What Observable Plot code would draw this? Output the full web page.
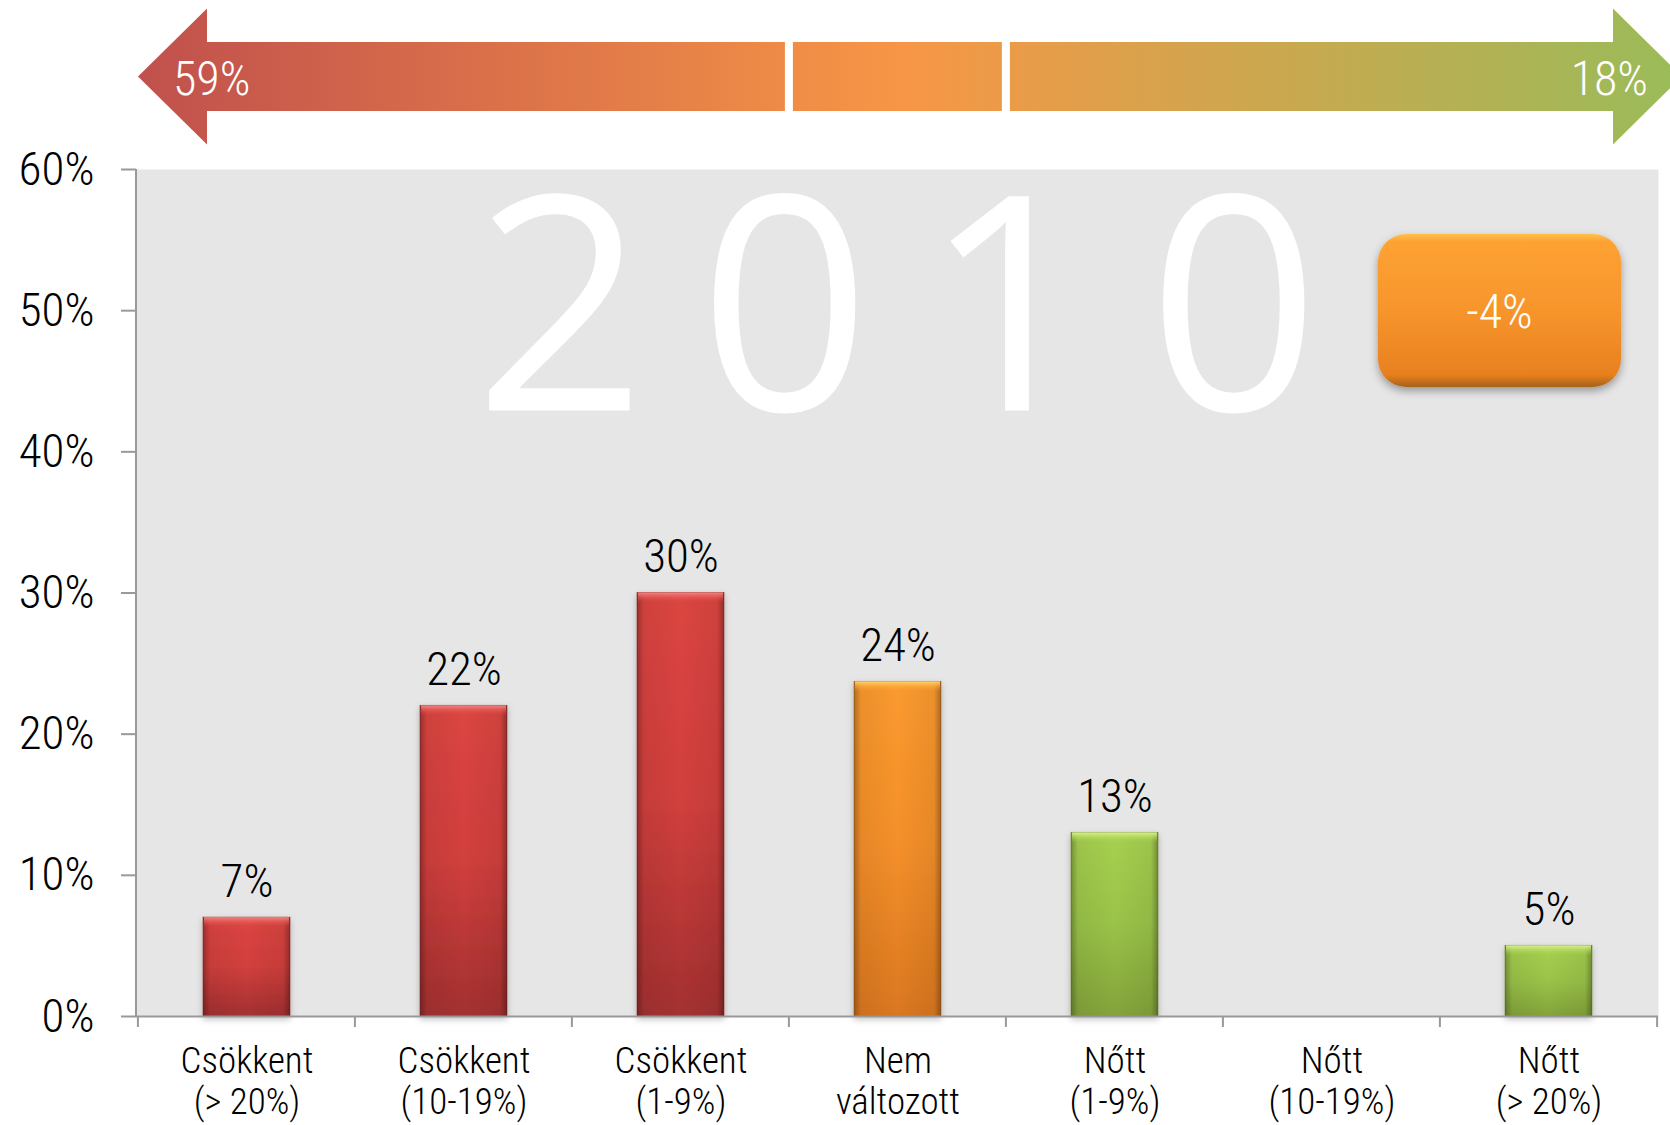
<!DOCTYPE html>
<html><head><meta charset="utf-8">
<script src="https://cdn.jsdelivr.net/npm/d3@7"></script>
<script src="https://cdn.jsdelivr.net/npm/@observablehq/plot@0.6"></script>
<style>
html,body{margin:0;padding:0;background:#fff;}
#chart{width:1670px;height:1125px;overflow:hidden;}
</style></head><body><div id="chart"></div>
<script>
// ---- data ----
const categories = ["Csökkent\n(> 20%)","Csökkent\n(10-19%)","Csökkent\n(1-9%)","Nem\nváltozott","Nőtt\n(1-9%)","Nőtt\n(10-19%)","Nőtt\n(> 20%)"];
const values = [7, 22, 30, 23.7, 13, 0, 5];
const valueLabels = ["7%","22%","30%","24%","13%","","5%"];
const groups = ["down","down","down","same","up","up","up"];
const yTicks = [0, 10, 20, 30, 40, 50, 60];
const yearLabel = "2010";
const arrowLabels = ["59%", "18%"];
const netChange = "-4%";

const data = categories.map((c, i) => ({cat: c, value: values[i], label: valueLabels[i], group: groups[i]}));
const shown = data.filter(d => d.value > 0);

const FONT = "'Roboto Condensed', 'Liberation Sans Narrow', 'Arial Narrow', Roboto, sans-serif";
const edge = {down: "#8e2a2a", same: "#b8621a", up: "#6b8530"};

const barMarks = [];
for (const g of ["down", "same", "up"]) {
  const sub = shown.filter(d => d.group === g);
  barMarks.push(Plot.barY(sub, {x: "cat", y1: 0, y2: "value", fill: `url(#grad-${g})`, stroke: edge[g], strokeWidth: 1, strokeOpacity: 0.6}));
}
barMarks.push(Plot.barY(shown, {x: "cat", y1: 0, y2: "value", fill: "url(#sideShade)"}));
for (const g of ["down", "same", "up"]) {
  const sub = shown.filter(d => d.group === g);
  barMarks.push(Plot.barY(sub, {x: "cat", y1: "value", y2: "value", insetBottom: -10, insetLeft: 1, insetRight: 1, fill: `url(#bevel-${g})`}));
}

const plot = Plot.plot({
  width: 1670, height: 1125,
  marginLeft: 136, marginRight: 12, marginTop: 169, marginBottom: 109,
  style: {fontFamily: FONT, fontWeight: 300, background: "white", color: "black", overflow: "visible"},
  x: {domain: categories, paddingInner: 0.6, paddingOuter: 0.3, label: null},
  y: {domain: [0, 60], label: null},
  marks: [
    Plot.frame({fill: "#e6e6e6", stroke: null}),
    Plot.text([yearLabel], {frameAnchor: "top", lineAnchor: "top", dy: 28, dx: 26, fontSize: 300, fontWeight: 400,
      fill: "white", fontFamily: "'Open Sans', 'Lato', sans-serif"}),
    ...barMarks,
    Plot.text(shown, {x: "cat", y: "value", text: "label", dy: -21, lineAnchor: "bottom", fontSize: 47, fontWeight: 300, fill: "black"}),
    Plot.axisY({ticks: yTicks, tickFormat: d => d + "%", tickSize: 15, tickPadding: 27, fontSize: 47, fontWeight: 300, stroke: "#999", strokeWidth: 2, fill: "black", label: null}),
    Plot.axisX({tickSize: 0, tickPadding: 28, fontSize: 37, fontWeight: 300, lineHeight: 1.1, lineAnchor: "top", fill: "black", label: null}),
    Plot.ruleY([0], {stroke: "#999", strokeWidth: 2})
  ]
});
document.getElementById("chart").appendChild(plot);

// ---- decorations derived from the scales ----
const svg = d3.select(plot);
const xs = plot.scale("x"), ys = plot.scale("y");
const [xL, xR] = xs.range;
const yTop = ys.apply(60), yBase = ys.apply(0);
const half = xs.step * xs.paddingInner / 2;
const bounds = categories.map(c => xs.apply(c) - half);
bounds.push(xs.apply(categories[categories.length - 1]) + xs.bandwidth + half);

// gradients
const defs = svg.insert("defs", ":first-child");
function vgrad(id, stops) {
  const g = defs.append("linearGradient").attr("id", id).attr("x1", 0).attr("y1", 0).attr("x2", 0).attr("y2", 1);
  stops.forEach(([o, c, a]) => g.append("stop").attr("offset", o).attr("stop-color", c).attr("stop-opacity", a ?? 1));
  return g;
}
vgrad("grad-down", [[0, "#dc4541"], [0.5, "#d13f3d"], [1, "#a33030"]]);
vgrad("grad-same", [[0, "#fb9a2e"], [0.5, "#f48f2a"], [1, "#da771f"]]);
vgrad("grad-up", [[0, "#a7d150"], [0.5, "#9ac348"], [1, "#83a33a"]]);
vgrad("bevel-down", [[0, "#f68480"], [1, "#dc4541", 0]]);
vgrad("bevel-same", [[0, "#ffd466"], [1, "#fb9a2e", 0]]);
vgrad("bevel-up", [[0, "#d8f28c"], [1, "#a7d150", 0]]);
const side = defs.append("linearGradient").attr("id", "sideShade").attr("x1", 0).attr("x2", 1).attr("y1", 0).attr("y2", 0);
[[0, 0.3], [0.08, 0.06], [0.5, 0], [0.92, 0.06], [1, 0.32]].forEach(([o, a]) => side.append("stop").attr("offset", o).attr("stop-color", "#000").attr("stop-opacity", a));
const ag = defs.append("linearGradient").attr("id", "arrowGrad").attr("gradientUnits", "userSpaceOnUse")
  .attr("x1", xL).attr("x2", 1670).attr("y1", 0).attr("y2", 0);
[[0, "#c0504d"], [0.5, "#f79646"], [1, "#9bbb59"]].forEach(([o, c]) => ag.append("stop").attr("offset", o).attr("stop-color", c));
vgrad("boxGrad", [[0, "#ffc24a"], [0.05, "#fda232"], [0.5, "#f7952c"], [0.92, "#e8801f"], [1, "#a5621c"]]);
const f = defs.append("filter").attr("id", "shadow").attr("x", "-20%").attr("y", "-20%").attr("width", "140%").attr("height", "150%");
f.append("feDropShadow").attr("dx", 0).attr("dy", 4).attr("stdDeviation", 4).attr("flood-color", "#000").attr("flood-opacity", 0.35);
const fb = defs.append("filter").attr("id", "barshadow").attr("x", "-20%").attr("y", "-5%").attr("width", "140%").attr("height", "115%");
fb.append("feDropShadow").attr("dx", 0).attr("dy", 3).attr("stdDeviation", 3).attr("flood-color", "#000").attr("flood-opacity", 0.25);

svg.selectAll('g[aria-label="bar"]').filter((d, i) => i < 3).attr("filter", "url(#barshadow)");
svg.selectAll('g[aria-label="text"]').filter((d, i) => i === 0).selectAll("text").style("letter-spacing", "53px");

// axis lines & boundary ticks
const deco = svg.append("g");
deco.append("line").attr("x1", xL).attr("x2", xL).attr("y1", yTop).attr("y2", yBase).attr("stroke", "#999").attr("stroke-width", 2);
bounds.forEach(bx => deco.append("line").attr("x1", bx).attr("x2", bx).attr("y1", yBase).attr("y2", yBase + 11).attr("stroke", "#999").attr("stroke-width", 2));

// direction arrow
const cy = yTop - 92.5, headHalf = 68, barHalf = 34.5, headLen = 69, gap = 4;
const lTip = xL + 2, lBase = lTip + headLen;
const rBase = xR - 45, rTip = rBase + headLen;
const b3 = bounds[3], b4 = bounds[4];
const arrow = svg.append("g").attr("font-family", FONT).attr("font-weight", 300);
arrow.append("path").attr("fill", "url(#arrowGrad)").attr("d",
  `M${lTip},${cy} L${lBase},${cy - headHalf} L${lBase},${cy - barHalf} L${b3 - gap},${cy - barHalf} L${b3 - gap},${cy + barHalf} L${lBase},${cy + barHalf} L${lBase},${cy + headHalf} Z`);
arrow.append("rect").attr("fill", "url(#arrowGrad)").attr("x", b3 + gap).attr("y", cy - barHalf).attr("width", b4 - b3 - 2 * gap).attr("height", 2 * barHalf);
arrow.append("path").attr("fill", "url(#arrowGrad)").attr("d",
  `M${b4 + gap},${cy - barHalf} L${rBase},${cy - barHalf} L${rBase},${cy - headHalf} L${rTip},${cy} L${rBase},${cy + headHalf} L${rBase},${cy + barHalf} L${b4 + gap},${cy + barHalf} Z`);
arrow.append("text").attr("x", lTip + 35).attr("y", cy + 18).attr("fill", "white").attr("font-size", 48).attr("text-anchor", "start").text(arrowLabels[0]);
arrow.append("text").attr("x", xR - 10).attr("y", cy + 18).attr("fill", "white").attr("font-size", 48).attr("text-anchor", "end").text(arrowLabels[1]);

// net change box
const bw = 243, bh = 153, bx = xR - 37 - bw, by = yTop + 65;
const box = svg.append("g").attr("font-family", FONT).attr("font-weight", 300);
box.append("rect").attr("x", bx).attr("y", by).attr("width", bw).attr("height", bh).attr("rx", 28).attr("fill", "url(#boxGrad)").attr("filter", "url(#shadow)");
box.append("text").attr("x", bx + bw / 2).attr("y", by + bh / 2).attr("dy", "0.36em").attr("text-anchor", "middle").attr("fill", "white").attr("font-size", 48).text(netChange);
</script>
</body></html>
